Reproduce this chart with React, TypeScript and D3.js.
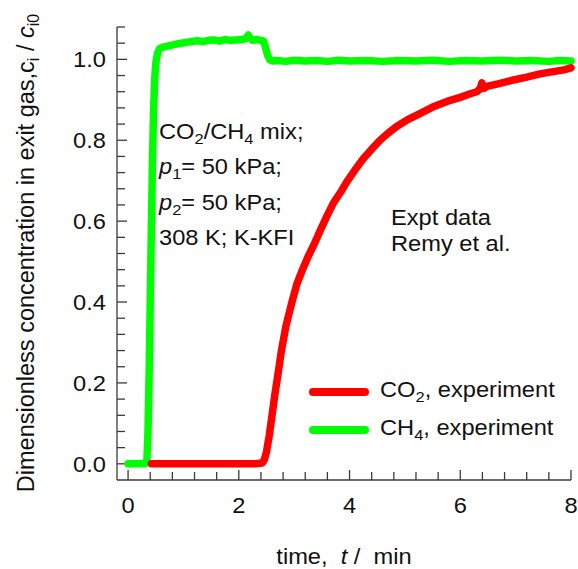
import React from "react";
import * as d3 from "d3";

// CH4 breakthrough (exit concentration ratio vs. time in minutes)
const ch4Time = [0, 0.1, 0.2, 0.3, 0.34, 0.36, 0.38, 0.4, 0.42, 0.44, 0.46, 0.48, 0.5, 0.53, 0.57, 0.65, 0.75, 0.85, 0.95, 1.05, 1.15, 1.25, 1.35, 1.45, 1.55, 1.65, 1.75, 1.85, 1.95, 2.05, 2.12, 2.17, 2.2, 2.25, 2.32, 2.4, 2.45, 2.48, 2.52, 2.56, 2.6, 2.7, 2.85, 3.0, 3.2, 3.4, 3.6, 3.8, 4.0, 4.3, 4.6, 4.9, 5.2, 5.5, 5.8, 6.1, 6.4, 6.7, 7.0, 7.3, 7.6, 7.8, 8.0];
const ch4Value = [0, 0, 0, 0, 0.01, 0.08, 0.22, 0.4, 0.58, 0.75, 0.87, 0.95, 0.99, 1.015, 1.027, 1.031, 1.034, 1.037, 1.04, 1.042, 1.044, 1.046, 1.044, 1.047, 1.048, 1.045, 1.049, 1.047, 1.048, 1.049, 1.051, 1.06, 1.053, 1.047, 1.049, 1.047, 1.045, 1.03, 1.01, 0.999, 0.996, 0.997, 0.995, 0.998, 0.996, 0.997, 0.995, 0.998, 0.996, 0.997, 0.995, 0.997, 0.996, 0.998, 0.995, 0.997, 0.996, 0.998, 0.996, 0.997, 0.995, 0.997, 0.996];

// CO2 breakthrough
const co2Time = [0.42, 0.8, 1.2, 1.6, 2.0, 2.3, 2.42, 2.46, 2.5, 2.55, 2.6, 2.65, 2.7, 2.77, 2.85, 2.95, 3.05, 3.15, 3.25, 3.35, 3.47, 3.6, 3.71, 3.85, 3.95, 4.1, 4.25, 4.4, 4.55, 4.7, 4.85, 5.05, 5.27, 5.5, 5.76, 6.0, 6.18, 6.3, 6.36, 6.39, 6.42, 6.48, 6.7, 6.96, 7.2, 7.44, 7.65, 7.87, 8.0];
const co2Value = [0, 0, 0, 0, 0, 0, 0.002, 0.01, 0.03, 0.07, 0.12, 0.17, 0.215, 0.28, 0.34, 0.395, 0.445, 0.48, 0.512, 0.54, 0.577, 0.615, 0.645, 0.674, 0.697, 0.727, 0.755, 0.778, 0.8, 0.818, 0.834, 0.851, 0.866, 0.882, 0.896, 0.906, 0.915, 0.92, 0.928, 0.942, 0.928, 0.933, 0.94, 0.949, 0.956, 0.964, 0.969, 0.974, 0.979];

const xMajorTicks = [0, 2, 4, 6, 8];
const yMajorTicks = [0, 0.2, 0.4, 0.6, 0.8, 1.0];

const FONT = "'Liberation Sans', Arial, Helvetica, sans-serif";
const FS = 21.5;
const SUB = 15;
const SX = 1.1;

// Horizontal text, slightly widened
function T(props: { x: number; y: number; anchor?: string; size?: number; children: React.ReactNode }) {
  const { x, y, anchor = "start", size = FS, children } = props;
  return (
    <text transform={`translate(${x},${y}) scale(${SX},1)`} fontSize={size} textAnchor={anchor} fill="#111">
      {children}
    </text>
  );
}

export default function App() {
  const width = 578;
  const height = 569;
  const x = d3.scaleLinear().domain([-0.2, 8]).range([117, 571]);
  const y = d3.scaleLinear().domain([-0.04, 1.08]).range([480, 27]);

  const line = d3
    .line<[number, number]>()
    .x((d) => x(d[0]))
    .y((d) => y(d[1]));

  const ch4Pts = ch4Time.map((t, i) => [t, ch4Value[i]] as [number, number]);
  const co2Pts = co2Time.map((t, i) => [t, co2Value[i]] as [number, number]);

  const xMinor = d3.range(0, 8.001, 0.4).filter((v) => !xMajorTicks.some((m) => Math.abs(m - v) < 1e-6));
  const yMinor = d3.range(0.04, 1.081, 0.04).filter((v) => !yMajorTicks.some((m) => Math.abs(m - v) < 1e-6));

  const axisColor = "#3a3a3a";
  const x0 = x.range()[0];
  const yBottom = y.range()[0];

  return (
    <div style={{ position: "absolute", left: 0, top: 0 }}>
      <svg width={width} height={height} style={{ display: "block", background: "#fff" }} fontFamily={FONT}>
        {/* axes */}
        <line x1={x0} x2={x0} y1={y.range()[1]} y2={yBottom} stroke={axisColor} strokeWidth={1.3} />
        <line x1={x0} x2={x.range()[1]} y1={yBottom} y2={yBottom} stroke={axisColor} strokeWidth={1.3} />
        {xMajorTicks.map((v) => (
          <g key={"xm" + v}>
            <line x1={x(v)} x2={x(v)} y1={yBottom} y2={yBottom - 10} stroke={axisColor} strokeWidth={1.3} />
            <T x={x(v)} y={513} anchor="middle">{v}</T>
          </g>
        ))}
        {xMinor.map((v) => (
          <line key={"xn" + v} x1={x(v)} x2={x(v)} y1={yBottom} y2={yBottom - 8} stroke={axisColor} strokeWidth={1.3} />
        ))}
        {yMajorTicks.map((v) => (
          <g key={"ym" + v}>
            <line x1={x0} x2={x0 + 10} y1={y(v)} y2={y(v)} stroke={axisColor} strokeWidth={1.3} />
            <T x={106} y={y(v) + 7.8} anchor="end">{v.toFixed(1)}</T>
          </g>
        ))}
        {yMinor.map((v) => (
          <line key={"yn" + v} x1={x0} x2={x0 + 8} y1={y(v)} y2={y(v)} stroke={axisColor} strokeWidth={1.3} />
        ))}

        {/* data */}
        <path d={line(ch4Pts) ?? ""} fill="none" stroke="#00ff00" strokeWidth={7.5} strokeLinecap="round" strokeLinejoin="round" />
        <path d={line(co2Pts) ?? ""} fill="none" stroke="#ff0000" strokeWidth={7.5} strokeLinecap="round" strokeLinejoin="round" />

        {/* axis titles */}
        <T x={344} y={564} anchor="middle">
          time,{"\u00a0\u00a0"}<tspan fontStyle="italic">t</tspan>{"\u00a0/\u00a0\u00a0"}min
        </T>
        <text transform="translate(34,253) rotate(-90)" fontSize={23.5} textAnchor="middle" fill="#111">
          Dimensionless concentration in exit gas,c<tspan fontSize={16} dy={5}>i</tspan>
          <tspan dy={-5}>{"\u00a0/\u00a0"}</tspan>
          <tspan fontStyle="italic">c</tspan>
          <tspan fontSize={16} dy={5}>i0</tspan>
        </text>

        {/* conditions */}
        <T x={159} y={139}>
          CO<tspan fontSize={SUB} dy={5}>2</tspan><tspan dy={-5}>/CH</tspan><tspan fontSize={SUB} dy={5}>4</tspan><tspan dy={-5}> mix;</tspan>
        </T>
        <T x={159} y={174}>
          <tspan fontStyle="italic">p</tspan><tspan fontSize={SUB} dy={5}>1</tspan><tspan dy={-5}>= 50 kPa;</tspan>
        </T>
        <T x={159} y={210}>
          <tspan fontStyle="italic">p</tspan><tspan fontSize={SUB} dy={5}>2</tspan><tspan dy={-5}>= 50 kPa;</tspan>
        </T>
        <T x={159} y={245}>308 K; K-KFI</T>
        <T x={391} y={225}>Expt data</T>
        <T x={391} y={251}>Remy et al.</T>

        {/* legend */}
        <line x1={313} x2={365} y1={392} y2={392} stroke="#ff0000" strokeWidth={8} strokeLinecap="round" />
        <line x1={313} x2={365} y1={430} y2={430} stroke="#00ff00" strokeWidth={8} strokeLinecap="round" />
        <T x={380} y={397}>
          CO<tspan fontSize={SUB} dy={5}>2</tspan><tspan dy={-5}>, experiment</tspan>
        </T>
        <T x={380} y={435}>
          CH<tspan fontSize={SUB} dy={5}>4</tspan><tspan dy={-5}>, experiment</tspan>
        </T>
      </svg>
    </div>
  );
}
